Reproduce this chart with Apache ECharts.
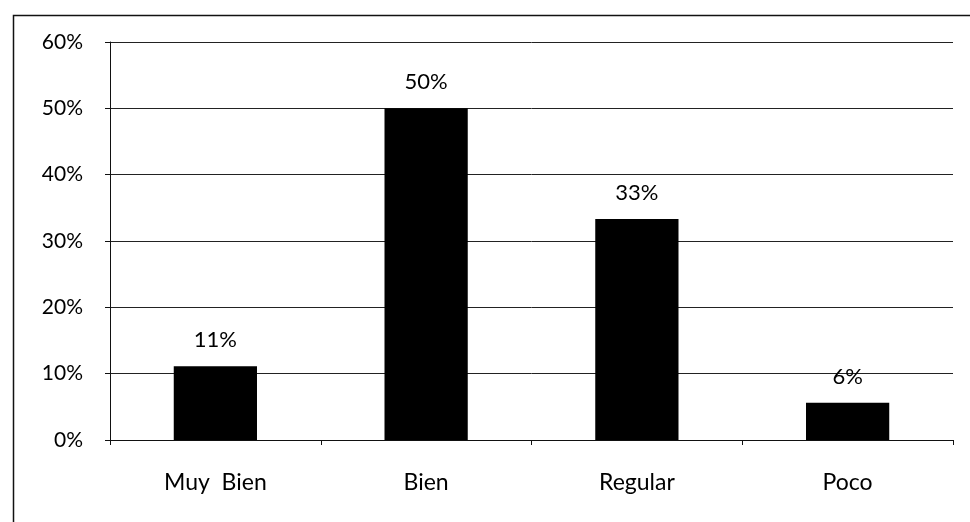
<!DOCTYPE html>
<html>
<head>
<meta charset="utf-8">
<script src="https://cdn.jsdelivr.net/npm/echarts@6/dist/echarts.min.js"></script>
<style>
html,body{margin:0;padding:0;background:#fff;}
#c{width:970px;height:522px;}
</style>
</head>
<body>
<div id="c"></div>
<script>
const categories = ['Muy  Bien', 'Bien', 'Regular', 'Poco'];
const values = [11.1, 50, 33.3, 5.6];
const labels = ['11%', '50%', '33%', '6%'];
const yTicks = [0, 10, 20, 30, 40, 50, 60];

const chart = echarts.init(document.getElementById('c'));
const font = 'Lato, "Noto Sans", sans-serif';
chart.setOption({
  animation: false,
  backgroundColor: '#fff',
  graphic: [{
    type: 'rect', left: 11, top: 13,
    shape: { width: 975, height: 530 },
    style: { fill: 'none', stroke: '#111', lineWidth: 1.5 }
  }],
  grid: { left: 110, right: 17, top: 42, bottom: 82, containLabel: false },
  xAxis: {
    type: 'category',
    data: categories,
    axisLine: { lineStyle: { color: '#111', width: 1 } },
    axisTick: { show: true, length: 5, lineStyle: { color: '#111' } },
    axisLabel: { color: '#000', fontSize: 23, fontFamily: font, margin: 31 }
  },
  yAxis: {
    type: 'value',
    min: yTicks[0], max: yTicks[yTicks.length - 1], interval: 10,
    axisLine: { show: true, lineStyle: { color: '#111', width: 1 } },
    axisTick: { show: true, length: 5, lineStyle: { color: '#111' } },
    splitLine: { lineStyle: { color: '#222', width: 1 } },
    axisLabel: { color: '#000', fontSize: 21, fontFamily: font, margin: 27,
      formatter: v => v + '%' }
  },
  series: [{
    type: 'bar',
    data: values,
    barWidth: '39.5%',
    itemStyle: { color: '#000' },
    label: {
      show: true, position: 'top', distance: 15,
      color: '#000', fontSize: 22, fontFamily: font,
      formatter: p => labels[p.dataIndex]
    }
  }]
});
</script>
</body>
</html>
